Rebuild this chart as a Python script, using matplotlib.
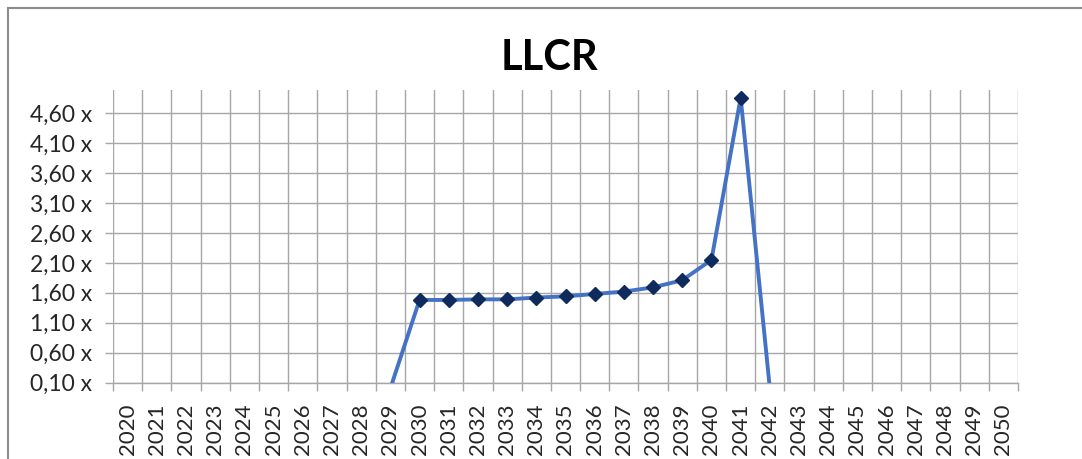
import numpy as np
import matplotlib
matplotlib.use("Agg")
import matplotlib.pyplot as plt
from matplotlib.lines import Line2D

# ------------------------------------------------------------
# data
# ------------------------------------------------------------
years = [str(y) for y in range(2020, 2051)]

llcr = [0, 0, 0, 0, 0, 0, 0, 0, 0, 0,
        1.48, 1.48, 1.49, 1.49, 1.52, 1.54, 1.58, 1.62, 1.69, 1.81,
        2.15, 4.86,
        0, 0, 0, 0, 0, 0, 0, 0, 0]

y_ticks = [0.10, 0.60, 1.10, 1.60, 2.10, 2.60, 3.10, 3.60, 4.10, 4.60]

# ------------------------------------------------------------
# style
# ------------------------------------------------------------
plt.rcParams["font.family"] = ["Lato", "DejaVu Sans"]
grid_col = "#a6a6a6"
line_col = "#4472C4"
marker_col = "#0f2a5c"
text_col = "#262626"

fig = plt.figure(figsize=(10.82, 4.59), dpi=100)
ax = fig.add_axes([113 / 1082, 1 - 382.5 / 459, 905 / 1082, 292.5 / 459])

x = np.arange(len(years))

ax.plot(x, llcr, color=line_col, linewidth=2.8, zorder=3)
ax.plot(x[10:22], llcr[10:22], linestyle="None", marker="D", markersize=7,
        color=marker_col, markeredgecolor=marker_col, zorder=4)

ax.set_xlim(-0.5, len(years) - 0.5)
ax.set_ylim(0.10, 4.99)

# category labels at centers, gridlines at boundaries
ax.set_xticks(x)
ax.set_xticklabels(years, rotation=90, fontsize=16, color=text_col)
ax.set_xticks(np.arange(-0.5, len(years), 1.0), minor=True)
ax.tick_params(axis="x", which="major", length=0, pad=15)
ax.tick_params(axis="x", which="minor", length=6, color=grid_col, width=1)
ax.grid(True, axis="x", which="minor", color=grid_col, linewidth=1)

ax.set_yticks(y_ticks)
ax.set_yticklabels([f"{v:.2f} x".replace(".", ",") for v in y_ticks],
                   fontsize=16.5, color=text_col)
ax.tick_params(axis="y", length=6, color=grid_col, width=1, pad=9)
ax.grid(True, axis="y", which="major", color=grid_col, linewidth=1)
ax.set_axisbelow(True)

for side in ["top", "right", "left"]:
    ax.spines[side].set_visible(False)
ax.spines["bottom"].set_color(grid_col)
ax.spines["bottom"].set_linewidth(1)

fig.text(549 / 1082, 1 - 58 / 459, "LLCR", ha="center", va="center",
         fontsize=30, fontweight="bold", color="#000000")

# outer chart border (top and left only visible)
fig.add_artist(Line2D([8 / 1082, 8 / 1082], [0, 1 - 8 / 459],
                      transform=fig.transFigure, color="#8c8c8c", linewidth=1.5))
fig.add_artist(Line2D([8 / 1082, 1], [1 - 8 / 459, 1 - 8 / 459],
                      transform=fig.transFigure, color="#8c8c8c", linewidth=1.5))

fig.savefig("out.png", dpi=100)
